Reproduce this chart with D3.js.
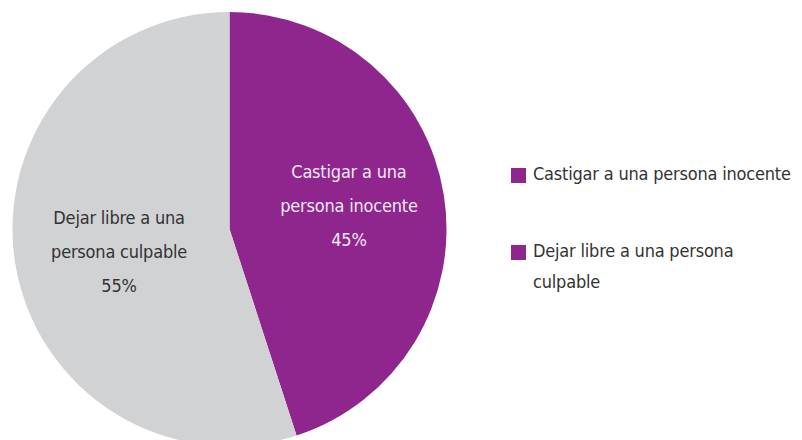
<!DOCTYPE html>
<html>
<head>
<meta charset="utf-8">
<script src="https://cdn.jsdelivr.net/npm/d3@7"></script>
<style>
  body { margin: 0; background: #fff; }
  svg text { font-family: "Liberation Sans Narrow", "DejaVu Sans Condensed", sans-serif; letter-spacing: -0.2px; }
</style>
</head>
<body>
<div id="chart"></div>
<script>
// Slice data
var categories = ["Castigar a una persona inocente", "Dejar libre a una persona culpable"];
var values = [45, 55];
var sliceLabels = [["Castigar a una", "persona inocente", "45%"], ["Dejar libre a una", "persona culpable", "55%"]];
var legendLabels = [["Castigar a una persona inocente"], ["Dejar libre a una persona", "culpable"]];
var colors = ["#8e268e", "#d1d2d4"];

var WIDTH = 802, HEIGHT = 440;
var CX = 229.5, CY = 229, R = 217;

function drawPie(id) {

    var svg = d3.select(id).append("svg")
                .attr("width", WIDTH)
                .attr("height", HEIGHT);

    var pie = d3.pie().sort(null).value(function(d) { return d; });
    var arcs = pie(values);
    var arc = d3.arc().innerRadius(0).outerRadius(R);

    var g = svg.append("g").attr("transform", "translate(" + CX + "," + CY + ")");

    g.selectAll("path")
        .data(arcs)
        .enter().append("path")
        .attr("d", arc)
        .attr("fill", function(d, i) { return colors[i]; });

    // labels inside the slices (gray one sits a bit closer to centre)
    var lab = g.selectAll(".slice-label")
        .data(arcs)
        .enter().append("text")
        .attr("class", "slice-label")
        .attr("text-anchor", "middle")
        .attr("font-size", 18)
        .attr("fill", function(d, i) { return i === 0 ? "#f3e9f3" : "#333333"; })
        .attr("transform", function(d, i) {
            var r = R * (i === 0 ? 0.56 : 0.52);
            var a = (d.startAngle + d.endAngle) / 2 - (i === 0 ? 0.03 : 0.05);
            return "translate(" + (r * Math.sin(a)) + "," + (-r * Math.cos(a)) + ")";
        });

    lab.selectAll("tspan")
        .data(function(d, i) { return sliceLabels[i]; })
        .enter().append("tspan")
        .attr("x", 0)
        .attr("y", function(d, j) { return (j - 1) * 34 + 6; })
        .text(function(d) { return d; });

    // legend
    var legend = svg.append("g").attr("transform", "translate(511,168)");
    var item = legend.selectAll(".item")
        .data(categories)
        .enter().append("g")
        .attr("class", "item")
        .attr("transform", function(d, i) { return "translate(0," + (i * 77) + ")"; });

    // both legend swatches are purple in the original
    item.append("rect")
        .attr("width", 15)
        .attr("height", 15)
        .attr("fill", colors[0]);

    item.append("text")
        .attr("font-size", 18)
        .attr("fill", "#333333")
        .selectAll("tspan")
        .data(function(d, i) { return legendLabels[i]; })
        .enter().append("tspan")
        .attr("x", 22)
        .attr("y", function(d, j) { return 12 + j * 31; })
        .text(function(d) { return d; });
}

drawPie("#chart");
</script>
</body>
</html>
